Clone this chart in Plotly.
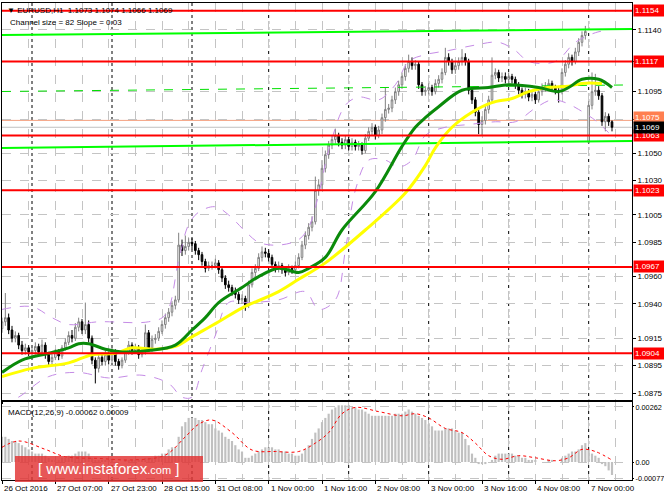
import plotly.graph_objects as go

# EURUSD H1, 26 Oct 2016 15:00 .. 7 Nov 2016 07:00 (bar index 0..183)
opens = [
    1.0922, 1.0927, 1.0930, 1.0921, 1.0915, 1.0917, 1.0910, 1.0906, 1.0908, 1.0905,
    1.0906, 1.0909, 1.0905, 1.0910, 1.0903, 1.0898, 1.0901, 1.0905, 1.0902, 1.0908,
    1.0912, 1.0917, 1.0915, 1.0923, 1.0927, 1.0921, 1.0925, 1.0915, 1.0899, 1.0893,
    1.0901, 1.0898, 1.0903, 1.0899, 1.0905, 1.0898, 1.0895, 1.0899, 1.0905, 1.0910,
    1.0906, 1.0908, 1.0903, 1.0905, 1.0919, 1.0908, 1.0914, 1.0915, 1.0920, 1.0925,
    1.0930, 1.0934, 1.0939, 1.0943, 1.0983, 1.0979, 1.0982, 1.0985, 1.0984, 1.0979,
    1.0976, 1.0971, 1.0966, 1.0968, 1.0968, 1.0970, 1.0965, 1.0959, 1.0954, 1.0952,
    1.0949, 1.0947, 1.0943, 1.0944, 1.0939, 1.0954, 1.0963, 1.0966, 1.0974, 1.0978,
    1.0977, 1.0974, 1.0969, 1.0966, 1.0968, 1.0965, 1.0963, 1.0966, 1.0965, 1.0968,
    1.0974, 1.0983, 1.0990, 1.0996, 1.1000, 1.1023, 1.1027, 1.1039, 1.1049, 1.1056,
    1.1060, 1.1063, 1.1058, 1.1056, 1.1060, 1.1055, 1.1058, 1.1055, 1.1056, 1.1052,
    1.1061, 1.1066, 1.1069, 1.1063, 1.1067, 1.1076, 1.1082, 1.1083, 1.1089, 1.1095,
    1.1100, 1.1106, 1.1112, 1.1117, 1.1114, 1.1115, 1.1100, 1.1095, 1.1096, 1.1098,
    1.1095, 1.1101, 1.1104, 1.1109, 1.1120, 1.1117, 1.1111, 1.1114, 1.1117, 1.1120,
    1.1117, 1.1096, 1.1089, 1.1080, 1.1071, 1.1074, 1.1082, 1.1089, 1.1107, 1.1109,
    1.1105, 1.1106, 1.1104, 1.1106, 1.1104, 1.1100, 1.1096, 1.1093, 1.1095, 1.1091,
    1.1093, 1.1089, 1.1095, 1.1098, 1.1099, 1.1101, 1.1098, 1.1096, 1.1095, 1.1109,
    1.1115, 1.1120, 1.1117, 1.1124, 1.1131, 1.1136, 1.1058, 1.1085, 1.1095, 1.1096,
    1.1092, 1.1073, 1.1077, 1.1073,
]
highs = [
    1.0930, 1.0948, 1.0933, 1.0924, 1.0920, 1.0919, 1.0913, 1.0911, 1.0910, 1.0909,
    1.0912, 1.0911, 1.0914, 1.0912, 1.0905, 1.0904, 1.0907, 1.0907, 1.0910, 1.0915,
    1.0920, 1.0921, 1.0926, 1.0930, 1.0929, 1.0941, 1.0928, 1.0917, 1.0901, 1.0904,
    1.0904, 1.0906, 1.0905, 1.0908, 1.0907, 1.0900, 1.0901, 1.0907, 1.0913, 1.0912,
    1.0911, 1.0910, 1.0908, 1.0925, 1.0921, 1.0917, 1.0918, 1.0923, 1.0928, 1.0933,
    1.0937, 1.0942, 1.0946, 1.0992, 1.0987, 1.0990, 1.0988, 1.0988, 1.0986, 1.0981,
    1.0978, 1.0973, 1.0971, 1.0971, 1.0973, 1.0972, 1.0967, 1.0961, 1.0957, 1.0954,
    1.0952, 1.0949, 1.0947, 1.0946, 1.0957, 1.0966, 1.0969, 1.0977, 1.0982, 1.0981,
    1.0979, 1.0976, 1.0971, 1.0971, 1.0970, 1.0967, 1.0969, 1.0968, 1.0971, 1.0977,
    1.0986, 1.0993, 1.0999, 1.1004, 1.1033, 1.1031, 1.1045, 1.1052, 1.1059, 1.1063,
    1.1068, 1.1065, 1.1061, 1.1063, 1.1062, 1.1061, 1.1060, 1.1059, 1.1058, 1.1064,
    1.1069, 1.1072, 1.1071, 1.1070, 1.1079, 1.1098, 1.1086, 1.1092, 1.1098, 1.1103,
    1.1109, 1.1115, 1.1122, 1.1120, 1.1118, 1.1117, 1.1102, 1.1099, 1.1101, 1.1100,
    1.1104, 1.1107, 1.1112, 1.1127, 1.1123, 1.1119, 1.1117, 1.1120, 1.1126, 1.1123,
    1.1119, 1.1098, 1.1091, 1.1082, 1.1077, 1.1085, 1.1092, 1.1120, 1.1112, 1.1111,
    1.1109, 1.1109, 1.1109, 1.1108, 1.1106, 1.1102, 1.1098, 1.1098, 1.1097, 1.1096,
    1.1095, 1.1098, 1.1101, 1.1102, 1.1104, 1.1103, 1.1100, 1.1099, 1.1112, 1.1118,
    1.1123, 1.1122, 1.1127, 1.1134, 1.1139, 1.1143, 1.1088, 1.1109, 1.1108, 1.1099,
    1.1094, 1.1080, 1.1079, 1.1074,
]
lows = [
    1.0919, 1.0924, 1.0918, 1.0912, 1.0912, 1.0907, 1.0903, 1.0903, 1.0902, 1.0902,
    1.0903, 1.0902, 1.0902, 1.0900, 1.0895, 1.0895, 1.0899, 1.0899, 1.0900, 1.0906,
    1.0910, 1.0912, 1.0913, 1.0920, 1.0918, 1.0918, 1.0912, 1.0896, 1.0882, 1.0890,
    1.0895, 1.0895, 1.0896, 1.0897, 1.0895, 1.0892, 1.0893, 1.0897, 1.0903, 1.0903,
    1.0904, 1.0900, 1.0901, 1.0903, 1.0905, 1.0905, 1.0911, 1.0913, 1.0918, 1.0922,
    1.0927, 1.0931, 1.0936, 1.0941, 1.0975, 1.0976, 1.0979, 1.0980, 1.0976, 1.0972,
    1.0968, 1.0963, 1.0964, 1.0965, 1.0966, 1.0962, 1.0956, 1.0951, 1.0949, 1.0946,
    1.0944, 1.0940, 1.0940, 1.0935, 1.0937, 1.0952, 1.0960, 1.0964, 1.0971, 1.0974,
    1.0971, 1.0966, 1.0963, 1.0963, 1.0962, 1.0960, 1.0961, 1.0962, 1.0963, 1.0966,
    1.0972, 1.0980, 1.0987, 1.0993, 1.0998, 1.1019, 1.1024, 1.1036, 1.1046, 1.1053,
    1.1057, 1.1055, 1.1053, 1.1053, 1.1052, 1.1052, 1.1052, 1.1052, 1.1049, 1.1050,
    1.1059, 1.1063, 1.1060, 1.1061, 1.1064, 1.1073, 1.1079, 1.1080, 1.1086, 1.1092,
    1.1097, 1.1103, 1.1109, 1.1111, 1.1111, 1.1097, 1.1092, 1.1092, 1.1093, 1.1092,
    1.1093, 1.1098, 1.1101, 1.1107, 1.1114, 1.1108, 1.1108, 1.1111, 1.1114, 1.1114,
    1.1093, 1.1086, 1.1077, 1.1064, 1.1063, 1.1071, 1.1079, 1.1087, 1.1104, 1.1102,
    1.1102, 1.1101, 1.1101, 1.1101, 1.1097, 1.1093, 1.1090, 1.1090, 1.1088, 1.1088,
    1.1086, 1.1087, 1.1092, 1.1095, 1.1096, 1.1095, 1.1093, 1.1087, 1.1093, 1.1106,
    1.1112, 1.1114, 1.1115, 1.1121, 1.1128, 1.1133, 1.1057, 1.1082, 1.1092, 1.1089,
    1.1070, 1.1066, 1.1070, 1.1066,
]
closes = [
    1.0927, 1.0930, 1.0921, 1.0915, 1.0917, 1.0910, 1.0906, 1.0908, 1.0905, 1.0906,
    1.0909, 1.0905, 1.0910, 1.0903, 1.0898, 1.0901, 1.0905, 1.0902, 1.0908, 1.0912,
    1.0917, 1.0915, 1.0923, 1.0927, 1.0921, 1.0925, 1.0915, 1.0899, 1.0893, 1.0901,
    1.0898, 1.0903, 1.0899, 1.0905, 1.0898, 1.0895, 1.0899, 1.0905, 1.0910, 1.0906,
    1.0908, 1.0903, 1.0905, 1.0919, 1.0908, 1.0914, 1.0915, 1.0920, 1.0925, 1.0930,
    1.0934, 1.0939, 1.0943, 1.0983, 1.0979, 1.0982, 1.0985, 1.0984, 1.0979, 1.0976,
    1.0971, 1.0966, 1.0968, 1.0968, 1.0970, 1.0965, 1.0959, 1.0954, 1.0952, 1.0949,
    1.0947, 1.0943, 1.0944, 1.0939, 1.0954, 1.0963, 1.0966, 1.0974, 1.0978, 1.0977,
    1.0974, 1.0969, 1.0966, 1.0968, 1.0965, 1.0963, 1.0966, 1.0965, 1.0968, 1.0974,
    1.0983, 1.0990, 1.0996, 1.1000, 1.1023, 1.1027, 1.1039, 1.1049, 1.1056, 1.1060,
    1.1063, 1.1058, 1.1056, 1.1060, 1.1055, 1.1058, 1.1055, 1.1056, 1.1052, 1.1061,
    1.1066, 1.1069, 1.1063, 1.1067, 1.1076, 1.1082, 1.1083, 1.1089, 1.1095, 1.1100,
    1.1106, 1.1112, 1.1117, 1.1114, 1.1115, 1.1100, 1.1095, 1.1096, 1.1098, 1.1095,
    1.1101, 1.1104, 1.1109, 1.1120, 1.1117, 1.1111, 1.1114, 1.1117, 1.1120, 1.1117,
    1.1096, 1.1089, 1.1080, 1.1071, 1.1074, 1.1082, 1.1089, 1.1107, 1.1109, 1.1105,
    1.1106, 1.1104, 1.1106, 1.1104, 1.1100, 1.1096, 1.1093, 1.1095, 1.1091, 1.1093,
    1.1089, 1.1095, 1.1098, 1.1099, 1.1101, 1.1098, 1.1096, 1.1095, 1.1109, 1.1115,
    1.1120, 1.1117, 1.1124, 1.1131, 1.1136, 1.1139, 1.1085, 1.1095, 1.1096, 1.1092,
    1.1073, 1.1077, 1.1073, 1.1069,
]
bars = list(range(len(closes)))

# moving averages / bands at a few bars
green_ma_idx = [0, 6, 14, 20, 23, 26, 31, 36, 44, 52, 57, 61, 65, 72, 77, 83, 89, 92, 97,
                102, 112, 120, 124, 127, 131, 138, 146, 152, 161, 167, 170, 174, 179, 183]
green_ma = [1.0890, 1.0899, 1.0904, 1.0908, 1.0911, 1.0911, 1.0907, 1.0905, 1.0906, 1.0910,
            1.0921, 1.0930, 1.0941, 1.0952, 1.0960, 1.0966, 1.0963, 1.0966, 1.0974, 1.0994,
            1.1022, 1.1055, 1.1069, 1.1076, 1.1084, 1.1096, 1.1098, 1.1100, 1.1098, 1.1095,
            1.1098, 1.1104, 1.1104, 1.1098]
yellow_ma_idx = [0, 9, 20, 27, 34, 39, 46, 52, 57, 65, 72, 83, 89, 97, 109, 121, 127, 130,
                 135, 141, 147, 153, 158, 164, 170, 174, 180]
yellow_ma = [1.0887, 1.0893, 1.0897, 1.0903, 1.0904, 1.0908, 1.0907, 1.0909, 1.0916, 1.0927,
             1.0937, 1.0949, 1.0958, 1.0970, 1.0994, 1.1021, 1.1041, 1.1054, 1.1069, 1.1080,
             1.1087, 1.1090, 1.1095, 1.1098, 1.1099, 1.1101, 1.1101]
band_up_idx = [0, 9, 15, 20, 29, 44, 49, 53, 56, 59, 64, 68, 73, 77, 83, 89, 92, 95, 98,
               103, 107, 113, 118, 122, 127, 134, 142, 149, 154, 158, 166, 172, 178, 182]
band_up = [1.0936, 1.0938, 1.0930, 1.0925, 1.0927, 1.0927, 1.0932, 1.0972, 1.0998, 1.1007,
           1.1011, 1.1005, 1.0993, 1.0985, 1.0983, 1.0987, 1.0996, 1.1020, 1.1052, 1.1085,
           1.1091, 1.1089, 1.1100, 1.1117, 1.1122, 1.1125, 1.1129, 1.1131, 1.1125, 1.1117,
           1.1117, 1.1131, 1.1138, 1.1140]
band_dn_idx = [0, 5, 14, 23, 32, 42, 50, 54, 57, 60, 64, 68, 74, 83, 91, 95, 100, 103, 106,
               110, 115, 119, 123, 127, 133, 140, 148, 154, 160, 165, 169, 173, 178, 182]
band_dn = [1.0866, 1.0872, 1.0887, 1.0890, 1.0886, 1.0888, 1.0882, 1.0872, 1.0872, 1.0892,
           1.0917, 1.0941, 1.0941, 1.0943, 1.0949, 1.0936, 1.0943, 1.0979, 1.1023, 1.1045,
           1.1045, 1.1040, 1.1045, 1.1063, 1.1069, 1.1071, 1.1073, 1.1073, 1.1083, 1.1089,
           1.1087, 1.1082, 1.1074, 1.1065]

# linear regression channel (82 pips)
channel_x = [0, 189]
channel_top = [1.11363, 1.11407]
channel_mid = [1.10951, 1.10999]
channel_bot = [1.10539, 1.10590]

levels = [1.1154, 1.1117, 1.1063, 1.1023, 1.0967, 1.0904]
bid_price = 1.1069
ask_price = 1.1074

price_ticks = [1.1140, 1.1117, 1.1095, 1.1075, 1.1050, 1.1030, 1.1005, 1.0985,
               1.0960, 1.0940, 1.0915, 1.0895, 1.0875]

macd = [
    0.0012, 0.0012, 0.0011, 0.0010, 0.0010, 0.0009, 0.0008, 0.0007, 0.0006, 0.0005,
    0.0004, 0.0004, 0.0004, 0.0003, 0.0002, 0.0001, 0.0001, 0.0001, 0.0002, 0.0002,
    0.0003, 0.0003, 0.0004, 0.0005, 0.0005, 0.0005, 0.0004, 0.0002, 0.0001, 0.0001,
    0.0001, 0.0001, 0.0001, 0.0001, 0.0000, 0.0000, 0.0000, 0.0001, 0.0001, 0.0001,
    0.0001, 0.0001, 0.0001, 0.0002, 0.0002, 0.0002, 0.0003, 0.0003, 0.0004, 0.0004,
    0.0006, 0.0007, 0.0007, 0.0012, 0.0017, 0.0019, 0.0021, 0.0021, 0.0021, 0.0020,
    0.0020, 0.0019, 0.0018, 0.0018, 0.0016, 0.0015, 0.0014, 0.0012, 0.0011, 0.0010,
    0.0008, 0.0006, 0.0005, 0.0002, 0.0002, 0.0003, 0.0004, 0.0005, 0.0006, 0.0007,
    0.0007, 0.0007, 0.0006, 0.0006, 0.0005, 0.0005, 0.0004, 0.0004, 0.0003, 0.0003,
    0.0004, 0.0006, 0.0008, 0.0011, 0.0014, 0.0016, 0.0019, 0.0021, 0.0023, 0.0025,
    0.0026, 0.0027, 0.0027, 0.0027, 0.0027, 0.0026, 0.0026, 0.0025, 0.0025, 0.0024,
    0.0023, 0.0022, 0.0022, 0.0022, 0.0022, 0.0022, 0.0022, 0.0022, 0.0023, 0.0023,
    0.0023, 0.0024, 0.0025, 0.0024, 0.0023, 0.0022, 0.0021, 0.0020, 0.0018, 0.0017,
    0.0015, 0.0015, 0.0015, 0.0016, 0.0016, 0.0016, 0.0015, 0.0014, 0.0014, 0.0011,
    0.0008, 0.0004, 0.0002, -0.0001, -0.0001, -0.0001, 0.0000, 0.0001, 0.0003, 0.0004,
    0.0004, 0.0004, 0.0004, 0.0004, 0.0003, 0.0003, 0.0002, 0.0002, 0.0001, 0.0001,
    0.0001, 0.0000, 0.0000, 0.0000, 0.0001, 0.0001, 0.0000, 0.0000, 0.0002, 0.0003,
    0.0004, 0.0005, 0.0005, 0.0006, 0.0008, 0.0009, 0.0006, 0.0004, 0.0003, 0.0002,
    -0.0001, -0.0002, -0.0004, -0.00062,
]
signal_idx = [0, 5, 13, 19, 29, 39, 49, 55, 59, 63, 69, 75, 82, 89, 94, 98, 102, 106,
              113, 120, 124, 128, 133, 138, 142, 146, 150, 155, 160, 166, 170, 174, 178, 183]
signal = [0.0007, 0.0010, 0.0006, 0.00025, 0.00017, 0.0001, 0.00033, 0.0012, 0.0018,
          0.0020, 0.0014, 0.00057, 0.0005, 0.0005, 0.0009, 0.0014, 0.0023, 0.0026, 0.0024,
          0.0022, 0.0023, 0.0021, 0.0016, 0.0014, 0.0009, 0.0003, 0.00013, 0.0003, 0.0002,
          0.00006, 0.0002, 0.0006, 0.0005, 0.00009]
macd_ticks = [0.00262, 0.0, -0.00077]
macd_tick_text = ["0.00262", "0.00", "-0.00077"]

time_idx = [0, 16, 32, 48, 64, 80, 96, 112, 128, 144, 160, 176]
time_text = ["26 Oct 2016", "27 Oct 07:00", "27 Oct 23:00", "28 Oct 15:00", "31 Oct 08:00",
             "1 Nov 00:00", "1 Nov 16:00", "2 Nov 08:00", "3 Nov 00:00", "3 Nov 16:00",
             "4 Nov 08:00", "7 Nov 00:00"]
day_starts = [9, 33, 57, 80, 104, 128, 152, 176]

FONT = "Liberation Sans"
GRID = "#c4c4c4"

fig = go.Figure()

# channel, bands and averages behind candles
fig.add_trace(go.Scatter(x=channel_x, y=channel_mid, mode="lines",
                         line=dict(color="#00e000", width=1, dash="dash")))
for yy in (channel_top, channel_bot):
    fig.add_trace(go.Scatter(x=channel_x, y=yy, mode="lines",
                             line=dict(color="#00ff00", width=2)))
fig.add_trace(go.Scatter(x=band_up_idx, y=band_up, mode="lines", line_shape="spline",
                         line=dict(color="#c58ce6", width=1, dash="dash")))
fig.add_trace(go.Scatter(x=band_dn_idx, y=band_dn, mode="lines", line_shape="spline",
                         line=dict(color="#c58ce6", width=1, dash="dash")))

fig.add_trace(go.Candlestick(
    x=bars, open=opens, high=highs, low=lows, close=closes,
    increasing=dict(line=dict(color="#808080", width=1), fillcolor="#ffffff"),
    decreasing=dict(line=dict(color="#000000", width=1), fillcolor="#000000"),
    whiskerwidth=0,
))

fig.add_trace(go.Scatter(x=yellow_ma_idx, y=yellow_ma, mode="lines", line_shape="spline",
                         line=dict(color="#ffff00", width=3)))
fig.add_trace(go.Scatter(x=green_ma_idx, y=green_ma, mode="lines", line_shape="spline",
                         line=dict(color="#0a8a0a", width=3)))

# MACD panel
fig.add_trace(go.Bar(x=bars, y=macd, marker=dict(color="#c0c0c0", line_width=0),
                     xaxis="x2", yaxis="y2"))
fig.add_trace(go.Scatter(x=signal_idx, y=signal, mode="lines", line_shape="spline",
                         line=dict(color="#ff0000", width=1, dash="dot"),
                         xaxis="x2", yaxis="y2"))

shapes = []
for d in day_starts:
    shapes.append(dict(type="line", xref="x", yref="paper", x0=d, x1=d, y0=0, y1=1,
                       line=dict(color="#000000", width=1, dash="dot"), layer="below"))
for p in levels:
    shapes.append(dict(type="line", xref="paper", yref="y", x0=0, x1=1, y0=p, y1=p,
                       line=dict(color="#ff0000", width=2)))
shapes.append(dict(type="line", xref="paper", yref="y", x0=0, x1=1, y0=ask_price, y1=ask_price,
                   line=dict(color="#f4a080", width=1), layer="below"))
shapes.append(dict(type="line", xref="paper", yref="y", x0=0, x1=1, y0=bid_price, y1=bid_price,
                   line=dict(color="#c0c0c0", width=1), layer="below"))
# watermark
shapes.append(dict(type="rect", xref="paper", yref="paper", x0=0.0206, x1=0.319,
                   y0=-0.004, y1=0.0503, fillcolor="rgba(226,50,50,0.82)", line_width=0))

annotations = []
for p in levels:
    annotations.append(dict(x=1, xref="paper", y=p, yref="y", xanchor="left", xshift=1,
                            text=f"{p:.4f}", showarrow=False, bgcolor="#ff0000",
                            font=dict(family=FONT, size=8, color="#ffffff"),
                            width=29, borderpad=1, align="left"))
annotations.append(dict(x=1, xref="paper", y=ask_price + 0.0002, yref="y", xanchor="left",
                        xshift=1, text="1.1075", showarrow=False, bgcolor="#ff7f50",
                        font=dict(family=FONT, size=8, color="#ffffff"),
                        width=29, borderpad=1, align="left"))
annotations.append(dict(x=1, xref="paper", y=bid_price, yref="y", xanchor="left", xshift=1,
                        text=f"{bid_price:.4f}", showarrow=False, bgcolor="#000000",
                        font=dict(family=FONT, size=8, color="#ffffff"),
                        width=29, borderpad=1, align="left"))
annotations.append(dict(x=0.004, xref="paper", y=1, yref="paper", xanchor="left",
                        yanchor="top", yshift=-1, showarrow=False,
                        text="\u25bc EURUSD,H1  1.1073 1.1074 1.1066 1.1069",
                        font=dict(family=FONT, size=8, color="#000000")))
annotations.append(dict(x=0.01, xref="paper", y=1, yref="paper", xanchor="left",
                        yanchor="top", yshift=-13, showarrow=False,
                        text="Channel size = 82 Slope = 0.03",
                        font=dict(family=FONT, size=8, color="#000000")))
annotations.append(dict(x=0.006, xref="paper", y=0.1635, yref="paper", xanchor="left",
                        yanchor="top", yshift=-4, showarrow=False,
                        text="MACD(12,26,9) -0.00062 0.00009",
                        font=dict(family=FONT, size=8, color="#000000")))
for i, t in zip(time_idx, time_text):
    annotations.append(dict(x=i, xref="x2", y=0, yref="paper", xanchor="left",
                            yanchor="top", yshift=-2, showarrow=False, text=t,
                            font=dict(family=FONT, size=8, color="#000000")))
annotations.append(dict(x=0.1698, xref="paper", y=0.0235, yref="paper", showarrow=False,
                        xanchor="center", yanchor="middle",
                        text="[ www.instaforex<span style='font-size:11px'>.com</span> ]",
                        font=dict(family=FONT, size=15, color="#ffffff")))

xgrid = dict(range=[0, 189], showticklabels=False, tickvals=time_idx, ticks="outside",
             ticklen=3, tickcolor="#000000", showgrid=True, gridcolor=GRID, griddash="dash",
             minor=dict(tickvals=list(range(0, 189, 8)), showgrid=True, gridcolor=GRID,
                        griddash="dash", ticks=""),
             showline=True, linecolor="#000000", linewidth=1, mirror=True,
             zeroline=False, rangeslider=dict(visible=False), fixedrange=True)

fig.update_layout(
    width=664, height=498,
    margin=dict(l=2, r=32, t=3, b=18),
    paper_bgcolor="#ffffff", plot_bgcolor="#ffffff",
    showlegend=False, hovermode=False, bargap=0.35,
    xaxis=dict(xgrid, anchor="y", domain=[0, 1]),
    xaxis2=dict(xgrid, anchor="y2", domain=[0, 1], matches="x"),
    yaxis=dict(domain=[0.1677, 1], range=[1.08699, 1.11597], side="right",
               tickvals=price_ticks, tickformat=".4f", ticks="outside", ticklen=3,
               tickcolor="#000000", tickfont=dict(family=FONT, size=8, color="#000000"),
               showgrid=True, gridcolor=GRID, griddash="dash", zeroline=False,
               showline=True, linecolor="#000000", mirror=True, automargin=False),
    yaxis2=dict(domain=[0, 0.1635], range=[-0.000857, 0.002857], side="right",
                tickvals=macd_ticks, ticktext=macd_tick_text, ticks="outside", ticklen=1,
                tickcolor="#000000", tickfont=dict(family=FONT, size=7.3, color="#000000"),
                showgrid=True, gridcolor=GRID, griddash="dash", zeroline=False,
                showline=True, linecolor="#000000", mirror=True, automargin=False),
    shapes=shapes,
    annotations=annotations,
)

# the page's default 8px body margin would push the chart off the window
fig.write_html("out.html", config={"displayModeBar": False},
               post_script="document.body.style.margin='0';")
